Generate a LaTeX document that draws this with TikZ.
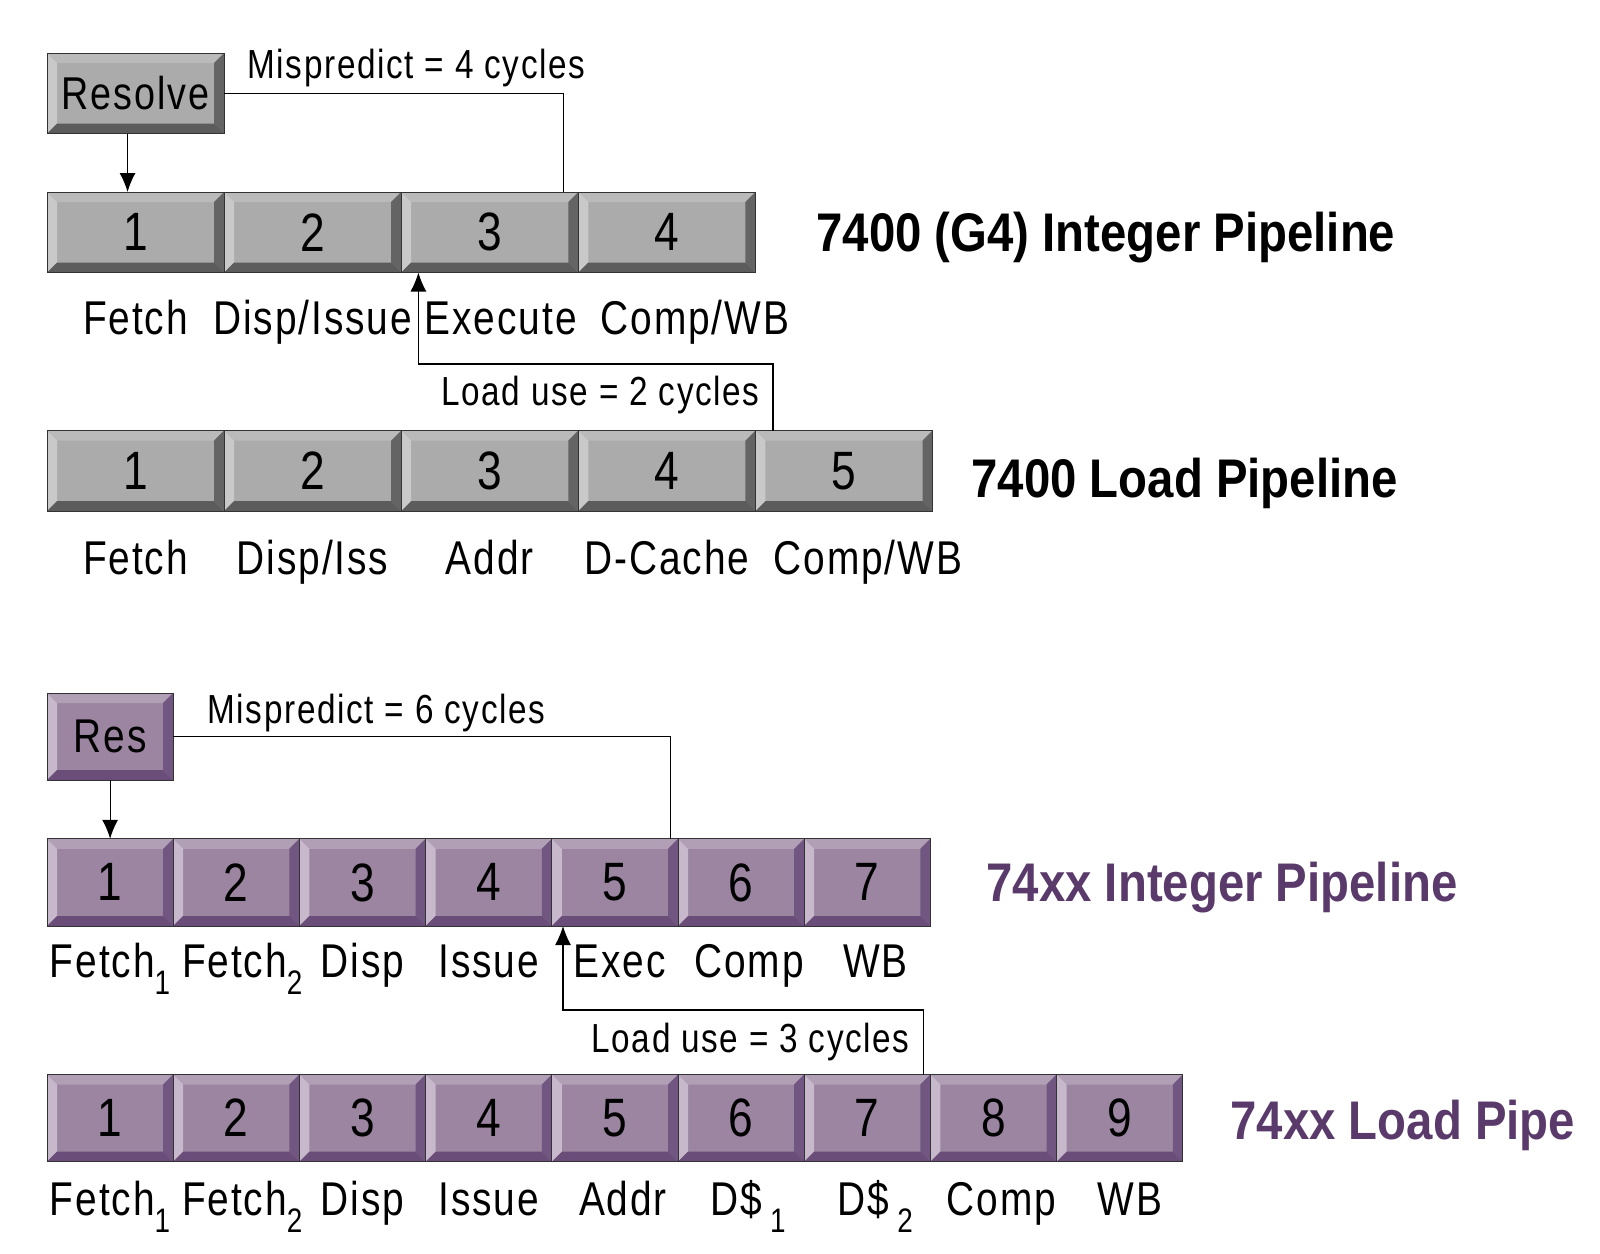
\documentclass[tikz,border=0pt]{standalone}
\usepackage{fontspec}
\setmainfont{Liberation Sans}[FakeStretch=0.82, LetterSpace=4, BoldFeatures={FakeStretch=0.87, LetterSpace=0}]
\usetikzlibrary{arrows.meta,positioning,calc}
\definecolor{gface}{HTML}{ABABAB}
\definecolor{gtop}{HTML}{BABABA}
\definecolor{gleft}{HTML}{C9C9C9}
\definecolor{gright}{HTML}{646464}
\definecolor{gbot}{HTML}{5C5C5C}
\definecolor{pface}{HTML}{9B85A1}
\definecolor{ptop}{HTML}{B19FB6}
\definecolor{pleft}{HTML}{C7B9CB}
\definecolor{pright}{HTML}{705680}
\definecolor{pbot}{HTML}{6A4D78}
\definecolor{ptitle}{HTML}{5A3A6A}
\newcommand\lowidx[1]{\raisebox{-0.36em}{\fontsize{17}{17}\selectfont #1}}
\def\keybev{5pt}

\begin{document}
\begin{tikzpicture}[x=0.5pt, y=-0.5pt, line width=0.6pt,
  arr/.style={-{Latex[length=9.5pt,width=8pt]}},
  bevelkey/.style n args={5}{draw=black!80, line width=0.5pt, fill=#1, inner sep=0pt, outer sep=0pt,
    path picture={
      \fill[#2] let \p1=(path picture bounding box.south west), \p2=(path picture bounding box.north east) in
        (\x1,\y2) -- (\x2,\y2) -- (\x2-\keybev,\y2-\keybev) -- (\x1+\keybev,\y2-\keybev) -- cycle;
      \fill[#3] let \p1=(path picture bounding box.south west), \p2=(path picture bounding box.north east) in
        (\x1,\y2) -- (\x1+\keybev,\y2-\keybev) -- (\x1+\keybev,\y1+\keybev) -- (\x1,\y1) -- cycle;
      \fill[#4] let \p1=(path picture bounding box.south west), \p2=(path picture bounding box.north east) in
        (\x2,\y2) -- (\x2,\y1) -- (\x2-\keybev,\y1+\keybev) -- (\x2-\keybev,\y2-\keybev) -- cycle;
      \fill[#5] let \p1=(path picture bounding box.south west), \p2=(path picture bounding box.north east) in
        (\x1,\y1) -- (\x1+\keybev,\y1+\keybev) -- (\x2-\keybev,\y1+\keybev) -- (\x2,\y1) -- cycle;
    }},
  gkey/.style={bevelkey={gface}{gtop}{gleft}{gright}{gbot}, minimum width=88.55pt, minimum height=40.25pt,
    font=\fontsize{27}{27}\selectfont},
  pkey/.style={bevelkey={pface}{ptop}{pleft}{pright}{pbot}, minimum width=63.1pt, minimum height=43.6pt,
    font=\fontsize{27}{27}\selectfont},
  lbl/.style={anchor=base, font=\fontsize{23.7}{24}\selectfont},
  note/.style={anchor=base west, inner sep=0pt, font=\fontsize{20.3}{21}\selectfont},
  title/.style={anchor=base west, inner sep=0pt, font=\fontsize{27.2}{28}\selectfont\bfseries}]

\useasboundingbox (0,0) rectangle (1600,1253);

% 7400 integer pipeline
\node[gkey, anchor=north west, font=\fontsize{23}{24}\selectfont] (res) at (47,53) {Resolve};
\node[gkey, anchor=north west] (g1-1) at (47,192) {1};
\foreach \i [count=\j from 1] in {2,...,4}
  \node[gkey, right=0pt of g1-\j] (g1-\i) {\i};
\foreach \lab/\dx [count=\i] in {Fetch/0, {Disp/Issue}/0, Execute/11, {Comp/WB}/28}
  \node[lbl] (g1l-\i) at ([xshift=\dx*0.5pt, yshift=-31pt]g1-\i.south) {\lab};
\node[title] (t1) at (816,251) {7400 (G4) Integer Pipeline};

% 7400 load pipeline
\node[gkey, anchor=north west] (g2-1) at (47,430.6) {1};
\foreach \i [count=\j from 1] in {2,...,5}
  \node[gkey, right=0pt of g2-\j] (g2-\i) {\i};
\foreach \lab/\dx [count=\i] in {Fetch/0, {Disp/Iss}/0, Addr/0, D-Cache/0, {Comp/WB}/24}
  \node[lbl] (g2l-\i) at ([xshift=\dx*0.5pt, yshift=-31.75pt]g2-\i.south) {\lab};
\node[title] (t2) at (971,497) {7400 Load Pipeline};

\node[note] (mis4) at (247,78.6) {Mispredict = 4 cycles};
\node[note] (lu2txt) at (441,405) {Load use = 2 cycles};
\draw[arr] ([xshift=-4pt]res.south) -- ([xshift=-4pt]g1-1.north);
\draw (res.east) -| ([xshift=-7.25pt]g1-3.north east);
\coordinate (lu1) at (418.4,364);
\draw[arr] ([xshift=8.75pt]g2-5.north west) |- (lu1) -- (lu1 |- g1-3.south);

% 74xx integer pipeline
\node[pkey, anchor=north west, font=\fontsize{23.7}{24}\selectfont] (pres) at (47,693) {Res};
\node[pkey, anchor=north west] (p1-1) at (47,838.8) {1};
\foreach \i [count=\j from 1] in {2,...,7}
  \node[pkey, right=0pt of p1-\j] (p1-\i) {\i};
\foreach \lab/\dx [count=\i] in {Fetch\lowidx{1}/0, Fetch\lowidx{2}/6, Disp/0, Issue/0, Exec/5, Comp/8, WB/8}
  \node[lbl] (p1l-\i) at ([xshift=\dx*0.5pt, yshift=-25.5pt]p1-\i.south) {\lab};
\node[title, text=ptitle] (t3) at (986,901) {74xx Integer Pipeline};

% 74xx load pipe
\node[pkey, anchor=north west] (p2-1) at (47,1074.5) {1};
\foreach \i [count=\j from 1] in {2,...,9}
  \node[pkey, right=0pt of p2-\j] (p2-\i) {\i};
\foreach \lab/\dx [count=\i] in {Fetch\lowidx{1}/0, Fetch\lowidx{2}/6, Disp/0, Issue/0, Addr/8,
    {D\$\,\lowidx{1}}/7, {D\$\,\lowidx{2}}/8, Comp/8, WB/10}
  \node[lbl] (p2l-\i) at ([xshift=\dx*0.5pt, yshift=-27pt]p2-\i.south) {\lab};
\node[title, text=ptitle] (t4) at (1230,1139) {74xx Load Pipe};

\node[note] (mis6) at (207,723.5) {Mispredict = 6 cycles};
\node[note] (lu3txt) at (591,1052) {Load use = 3 cycles};
\draw[arr] (pres.south) -- (p1-1.north);
\draw (pres.east) -| ([xshift=-3.9pt]p1-5.north east);
\coordinate (lu2) at (563,1010);
\draw[arr] ([xshift=-3.6pt]p2-7.north east) |- (lu2) -- (lu2 |- p1-5.south);
\end{tikzpicture}
\end{document}
